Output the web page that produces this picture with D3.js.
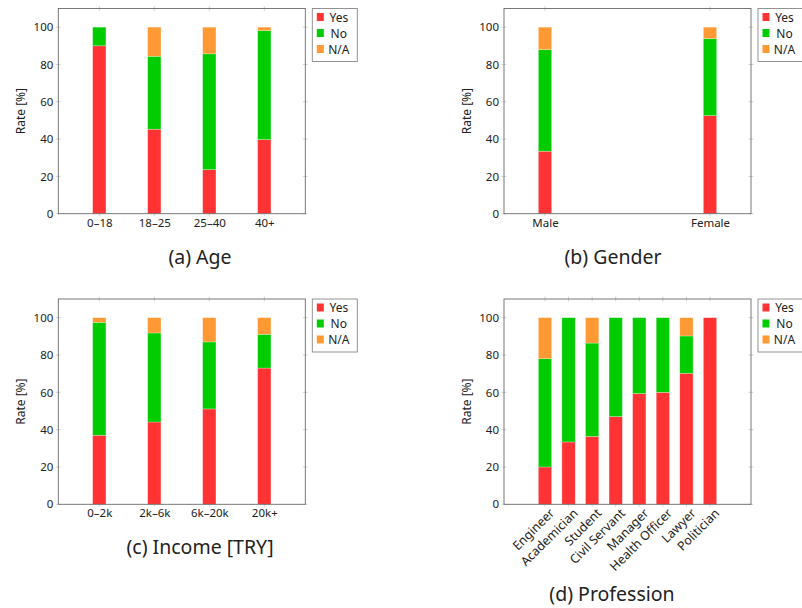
<!DOCTYPE html>
<html>
<head>
<meta charset="utf-8">
<script src="https://cdn.jsdelivr.net/npm/d3@7"></script>
<style>
  body { margin: 0; background: #fff; }
  text { font-family: "Noto Sans", "DejaVu Sans", sans-serif; fill: #222; }
</style>
</head>
<body>
<svg id="chart" width="802" height="608"></svg>
<script>
// answers per group, in percent
var series = ["Yes", "No", "N/A"];
var colors = ["#ff3333", "#00cc00", "#ff9933"];

var ageCats = ["0–18", "18–25", "25–40", "40+"];
var ageYes = [90, 45.3, 23.6, 39.7];
var ageNo  = [10, 39.1, 62.1, 58.5];
var ageNA  = [0, 15.6, 14.3, 1.8];

var genderCats = ["Male", "Female"];
var genderYes = [33.5, 52.6];
var genderNo  = [54.5, 41.3];
var genderNA  = [12.0, 6.1];

var incomeCats = ["0–2k", "2k–6k", "6k–20k", "20k+"];
var incomeYes = [37.0, 44.1, 51.1, 73.0];
var incomeNo  = [60.5, 47.7, 35.9, 18.1];
var incomeNA  = [2.5, 8.2, 13.0, 8.9];

var profCats = ["Engineer", "Academician", "Student", "Civil Servant", "Manager", "Health Officer", "Lawyer", "Politician"];
var profYes = [20, 33.4, 36.4, 47.0, 59.3, 60.0, 70.2, 100];
var profNo  = [58, 66.6, 50.0, 53.0, 40.7, 40.0, 20.0, 0];
var profNA  = [22, 0, 13.6, 0, 0, 0, 9.8, 0];

var yTicks = [0, 20, 40, 60, 80, 100];

var svg = d3.select("#chart");

// one subfigure: box with stacked bars, legend on the right, caption below
function panel(o) {
  var g = svg.append("g");
  var x = d3.scalePoint().domain(o.cats).range([o.left + 41, o.right - 41]);
  var y = d3.scaleLinear().domain([0, 110]).range([o.bottom, o.top]);

  var rows = o.cats.map(function(c, i) {
    return { cat: c, Yes: o.yes[i], No: o.no[i], "N/A": o.na[i] };
  });
  var stacked = d3.stack().keys(series)(rows);

  // tick marks (centered on the frame, light gray)
  yTicks.forEach(function(t) {
    [o.left, o.right].forEach(function(xx) {
      g.append("line").attr("x1", xx - 2.5).attr("x2", xx + 2.5)
        .attr("y1", y(t)).attr("y2", y(t))
        .attr("stroke", "#c8c8c8").attr("stroke-width", 0.8);
    });
  });
  o.cats.forEach(function(c) {
    [o.top, o.bottom].forEach(function(yy) {
      g.append("line").attr("x1", x(c)).attr("x2", x(c))
        .attr("y1", yy - 2.5).attr("y2", yy + 2.5)
        .attr("stroke", "#c8c8c8").attr("stroke-width", 0.8);
    });
  });

  var bw = 13.3;
  g.selectAll("g.series")
    .data(stacked)
    .enter().append("g")
    .attr("fill", function(d, i) { return colors[i]; })
    .selectAll("rect")
    .data(function(d) { return d.filter(function(e) { return e[1] - e[0] > 0; }); })
    .enter().append("rect")
    .attr("x", function(d) { return x(d.data.cat) - bw / 2; })
    .attr("y", function(d) { return y(d[1]); })
    .attr("width", bw)
    .attr("height", function(d) { return y(d[0]) - y(d[1]); })
    .attr("stroke", "#ffffff").attr("stroke-opacity", 0.45).attr("stroke-width", 0.6);

  // frame
  g.append("rect")
    .attr("x", o.left).attr("y", o.top)
    .attr("width", o.right - o.left).attr("height", o.bottom - o.top)
    .attr("fill", "none").attr("stroke", "#6a6a6a").attr("stroke-width", 0.9);

  // y axis labels
  var ya = d3.axisLeft(y).tickValues(yTicks).tickSize(0).tickPadding(5);
  var yg = g.append("g").attr("transform", "translate(" + o.left + ",0)").call(ya);
  yg.select(".domain").remove();
  yg.selectAll("text").style("font-size", "11.5px").attr("fill", "#222");

  // x axis labels
  var xa = d3.axisBottom(x).tickSize(0).tickPadding(5);
  var xg = g.append("g").attr("transform", "translate(0," + o.bottom + ")").call(xa);
  xg.select(".domain").remove();
  xg.selectAll("text").style("font-size", "11.5px").attr("fill", "#222");
  if (o.rotate) {
    xg.selectAll("text")
      .style("font-size", "12.5px")
      .attr("text-anchor", "end")
      .attr("dy", "0.35em")
      .attr("transform", "translate(3,3) rotate(-45)");
  }

  g.append("text")
    .attr("transform", "translate(" + (o.left - 38) + "," + ((o.top + o.bottom) / 2) + ") rotate(-90)")
    .attr("text-anchor", "middle")
    .attr("dominant-baseline", "central")
    .style("font-size", "12px")
    .text("Rate [%]");

  // legend
  var lx = o.right + 7, ly = o.top;
  g.append("rect").attr("x", lx).attr("y", ly).attr("width", 45).attr("height", 53)
    .attr("fill", "#fff").attr("stroke", "#888").attr("stroke-width", 0.9);
  series.forEach(function(s, i) {
    var cy = ly + 8.5 + i * 16;
    g.append("rect").attr("x", lx + 4.5).attr("y", cy - 4).attr("width", 7).attr("height", 8)
      .attr("fill", colors[i]);
    g.append("text").attr("x", lx + 26.5).attr("y", cy)
      .attr("text-anchor", "middle").attr("dominant-baseline", "central")
      .style("font-size", "12px").text(s);
  });

  // caption
  g.append("text")
    .attr("x", o.capX).attr("y", o.capY)
    .attr("text-anchor", "middle")
    .style("font-size", "19.5px")
    .text(o.caption);
}

panel({ cats: ageCats, yes: ageYes, no: ageNo, na: ageNA,
  left: 58.3, right: 305.3, top: 8.5, bottom: 213.7,
  caption: "(a) Age", capX: 200, capY: 264 });
panel({ cats: genderCats, yes: genderYes, no: genderNo, na: genderNA,
  left: 504, right: 751, top: 8.5, bottom: 213.7,
  caption: "(b) Gender", capX: 613, capY: 264 });
panel({ cats: incomeCats, yes: incomeYes, no: incomeNo, na: incomeNA,
  left: 58.3, right: 305.3, top: 299, bottom: 504.3,
  caption: "(c) Income [TRY]", capX: 200, capY: 554 });
panel({ cats: profCats, yes: profYes, no: profNo, na: profNA,
  left: 504, right: 751, top: 299, bottom: 504.3, rotate: true,
  caption: "(d) Profession", capX: 612, capY: 601 });
</script>
</body>
</html>
